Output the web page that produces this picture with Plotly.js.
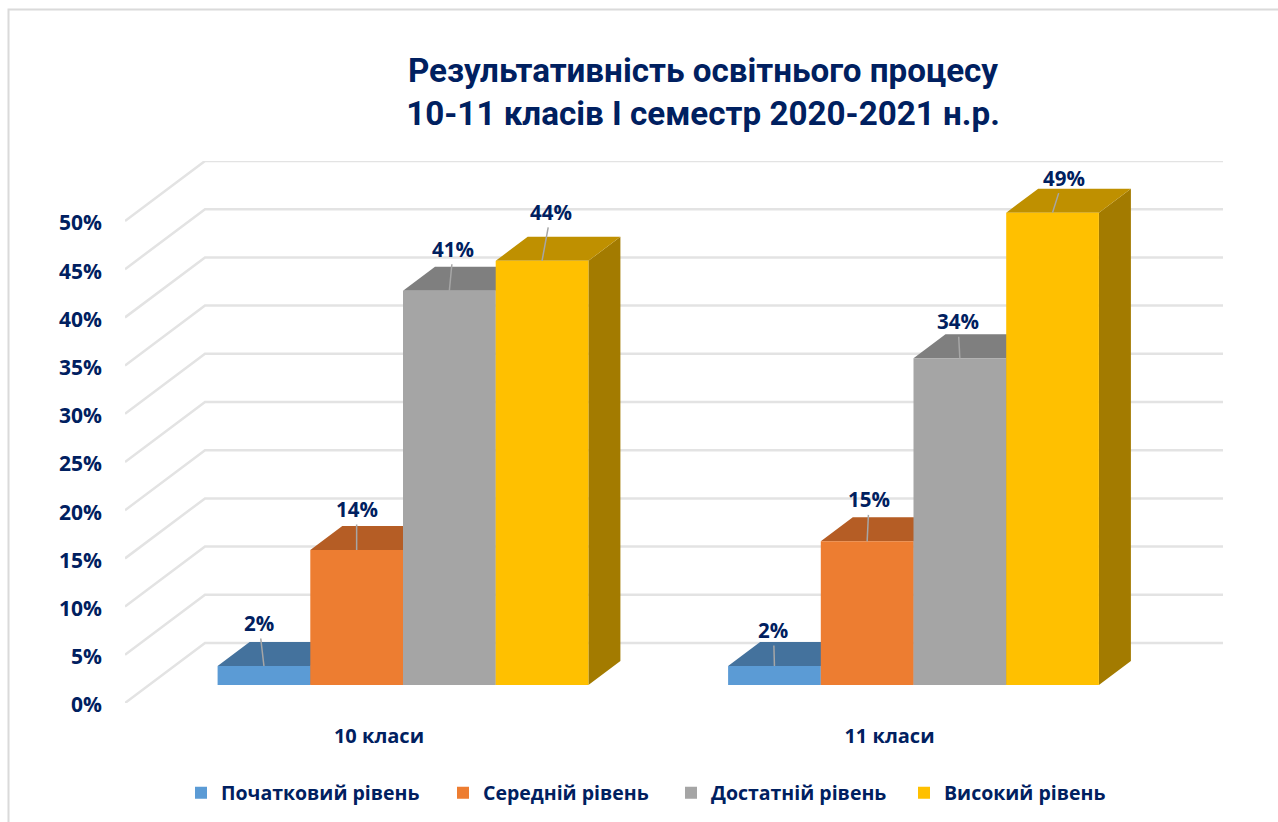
<!DOCTYPE html>
<html><head><meta charset="utf-8">
<script src="https://cdn.plot.ly/plotly-3.0.1.min.js"></script>
<style>html,body{margin:0;padding:0;background:#fff}#chart{width:1278px;height:822px}</style>
</head><body><div id="chart"></div>
<script>
const chartTitle = 'Результативність освітнього процесу<br>10-11 класів I семестр 2020-2021 н.р.';
const categories = ['10 класи', '11 класи'];
const seriesNames = ['Початковий рівень', 'Середній рівень', 'Достатній рівень', 'Високий рівень'];
const labelValues = [[2, 2], [14, 15], [41, 34], [44, 49]];
const exactHeights = [[1.97, 1.97], [14, 14.9], [40.9, 33.9], [44, 49]];
const yTicks = [0, 5, 10, 15, 20, 25, 30, 35, 40, 45, 50];

const frontColors = ['#5B9BD5', '#ED7D31', '#A5A5A5', '#FFC000'];
const topColors = ['#44729D', '#B55D25', '#7F7F7F', '#BF9000'];
const sideColors = ['#375F85', '#985020', '#6B6B6B', '#A37B00'];

// plot frame, in px
const W = 1278, H = 822, L = 125, R = 1223, T = 161, B = 703;
const catPx = 510.5, pctPx = 9.64, cat0Px = 379;
const xRange = [-(cat0Px - L) / catPx, (R - cat0Px) / catPx];
const yRange = [0, (B - T) / pctPx];
// oblique projection of the chart's depth axis
const depthX = 80 / catPx, depthY = 60 / pctPx;
const barFront = 0.3, barBack = 0.7;
const barW = 92.7 / catPx;

const catX = categories.map((_, i) => i);
const base = barFront * depthY;
const slantX = barFront * depthX;
const thick = (barBack - barFront);

const traces = [];
// walls grid: side wall then back wall
const gx = [], gy = [];
yTicks.forEach(t => {
  gx.push(xRange[0], xRange[0] + depthX, xRange[1], null);
  gy.push(t, t + depthY, t + depthY, null);
});
traces.push({type: 'scatter', mode: 'lines', x: gx, y: gy, showlegend: false, hoverinfo: 'skip',
  line: {color: '#E3E3E3', width: 2.5}, connectgaps: false});

// depth faces
exactHeights.forEach((vals, s) => {
  const tx = [], ty = [], sx = [], sy = [];
  vals.forEach((v, c) => {
    const x0 = c + slantX + (s - 2) * barW, x1 = x0 + barW;
    const top = base + v;
    const ddx = thick * depthX, ddy = thick * depthY;
    tx.push(x0, x1, x1 + ddx, x0 + ddx, x0, null);
    ty.push(top, top, top + ddy, top + ddy, top, null);
    sx.push(x1, x1 + ddx, x1 + ddx, x1, x1, null);
    sy.push(base, base + ddy, top + ddy, top, base, null);
  });
  traces.push({type: 'scatter', mode: 'none', x: sx, y: sy, fill: 'toself', fillcolor: sideColors[s], showlegend: false, hoverinfo: 'skip'});
  traces.push({type: 'scatter', mode: 'none', x: tx, y: ty, fill: 'toself', fillcolor: topColors[s], showlegend: false, hoverinfo: 'skip'});
});

// legend entry widths give the reference's uneven spacing
const legendWidths = [217, 183, 188, 170];

// front faces: real bars on an overlaying pair of axes so they sit above the depth faces
exactHeights.forEach((vals, s) => {
  traces.push({type: 'bar', name: seriesNames[s], x: catX.map(c => c + slantX), y: vals, base: base,
    xaxis: 'x2', yaxis: 'y2', marker: {color: frontColors[s], line: {width: 0}}, legendwidth: legendWidths[s],
    customdata: labelValues[s], hovertemplate: '%{customdata}%<extra>' + seriesNames[s] + '</extra>'});
});

// data labels with leader lines: pixel offsets [ax, ay] of label from the bar's top centre
const labelOffsets = [
  [[-5, -43], [-1, -36]],
  [[0, -41], [2, -42]],
  [[4, -42], [-2, -37]],
  [[9, -49], [11, -35]]
];
const annotations = [];
labelValues.forEach((vals, s) => {
  vals.forEach((v, c) => {
    annotations.push({
      x: c + slantX + (s - 1.5) * barW, y: base + exactHeights[s][c], xref: 'x', yref: 'y',
      text: v + '%', showarrow: true, arrowhead: 0, arrowwidth: 1.5, arrowcolor: '#A6A6A6',
      ax: labelOffsets[s][c][0], ay: labelOffsets[s][c][1], standoff: 0, startstandoff: 0,
      font: {family: 'Open Sans', size: 20.5, color: '#002060', weight: 700}
    });
  });
});

const layout = {
  width: W, height: H, autosize: false,
  paper_bgcolor: '#fff', plot_bgcolor: 'rgba(0,0,0,0)',
  margin: {l: L, r: W - R, t: T, b: H - B, pad: 0},
  title: {text: chartTitle, x: 703 / W, xanchor: 'center', y: 1 - 82 / H, yanchor: 'middle',
    font: {family: 'Roboto', size: 33.2, color: '#002060', weight: 700}},
  barmode: 'group', bargap: 1 - 4 * barW, bargroupgap: 0,
  showlegend: true,
  legend: {orientation: 'h', xref: 'container', yref: 'container', x: 181 / W, xanchor: 'left', y: 1 - 793 / H, yanchor: 'middle',
    font: {family: 'Open Sans', size: 19.5, color: '#002060', weight: 700}, bgcolor: 'rgba(0,0,0,0)'},
  xaxis: {range: xRange, tickmode: 'array', tickvals: catX, ticktext: categories, showgrid: false, zeroline: false,
    showline: false, ticks: '', tickfont: {family: 'Open Sans', size: 20, color: '#002060', weight: 700}, ticklabelstandoff: 19, fixedrange: true},
  yaxis: {range: yRange, tickmode: 'array', tickvals: yTicks, ticktext: yTicks.map(t => t + '%'), showgrid: false, zeroline: false,
    showline: false, ticks: '', tickfont: {family: 'Open Sans', size: 21, color: '#002060', weight: 700}, ticklabelstandoff: 22, ticklabelshift: 2, fixedrange: true},
  xaxis2: {overlaying: 'x', range: xRange, visible: false, fixedrange: true, anchor: 'y2'},
  yaxis2: {overlaying: 'y', range: yRange, visible: false, fixedrange: true, anchor: 'x2'},
  annotations: annotations,
  shapes: [{type: 'path', xref: 'paper', yref: 'paper', layer: 'below',
    path: 'M' + ((8.5 - L) / (R - L)) + ',' + (-(H - B) / (B - T)) + ' L' + ((8.5 - L) / (R - L)) + ',' + ((B - 9.5) / (B - T)) + ' L' + ((W - L) / (R - L)) + ',' + ((B - 9.5) / (B - T)),
    line: {color: '#DADADA', width: 2}}]
};
Plotly.newPlot('chart', traces, layout, {displayModeBar: false, responsive: false});
</script></body></html>
